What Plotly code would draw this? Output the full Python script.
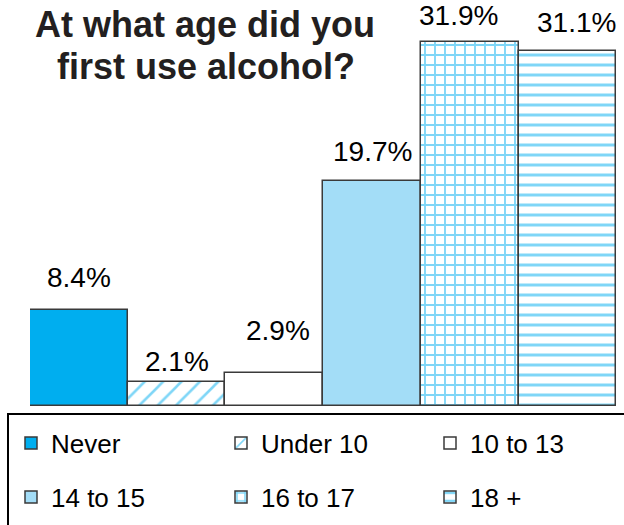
import plotly.graph_objects as go

# Survey result: age at first alcohol use (percent of respondents)
categories = ["Never", "Under 10", "10 to 13", "14 to 15", "16 to 17", "18 +"]
percents = [8.4, 2.1, 2.9, 19.7, 31.9, 31.1]

BLUE = "#00AEEF"
LIGHT_BLUE = "#A3DDF7"
EDGE = "#3a3a3a"
FONT = "Liberation Sans, Arial, Helvetica, sans-serif"

# fill style per category: (background colour, pattern shape, pattern size, solidity)
styles = [
    (BLUE, "", 10, 0.3),
    ("white", "/", 13, 0.2),
    ("white", "", 10, 0.3),
    (LIGHT_BLUE, "", 10, 0.3),
    ("white", "+", 10, 0.34),
    ("white", "-", 10, 0.3),
]

# value-label placement: (horizontal nudge, gap above bar top to label centre), px
label_offsets = [(0, 31), (0, 19), (4, 40), (0, 28), (-11, 24), (9, 26)]

# legend entry anchors in pixels (left x, centre y), two rows of three
legend_pos = [(11, 443), (221, 443), (430, 443),
              (11, 497), (221, 497), (430, 497)]

W, H = 624, 525
ML, MR, MT, MB = 30, 6, 0, 119
PW, PH = W - ML - MR, H - MT - MB
YMAX = 35.55


def px_x(x):
    return (x - ML) / PW


def px_y(y):
    return (H - MB - y) / PH


fig = go.Figure()
legend_layout = {}
for i, (cat, val) in enumerate(zip(categories, percents)):
    bg, shape, psize, solid = styles[i]
    lname = "legend" if i == 0 else f"legend{i + 1}"
    fig.add_trace(go.Bar(
        x=[cat], y=[val], name=cat,
        marker=dict(color=bg, line=dict(color=EDGE, width=1.5),
                    pattern=dict(shape=shape, fgcolor=BLUE, bgcolor=bg,
                                 size=psize, solidity=solid)),
        legend=lname,
        hoverinfo="skip",
    ))
    lx, ly = legend_pos[i]
    legend_layout[lname] = dict(
        xref="container", yref="container",
        x=lx / W, y=(H - ly) / H, xanchor="left", yanchor="middle",
        orientation="h",
        font=dict(family=FONT, size=26, color="black"),
        bgcolor="rgba(0,0,0,0)", borderwidth=0,
        itemclick=False, itemdoubleclick=False,
    )
    dx, gap = label_offsets[i]
    fig.add_annotation(
        x=cat, y=val, xref="x", yref="y", text=f"{val}%",
        showarrow=False, xanchor="center", yanchor="middle",
        xshift=dx, yshift=gap + 2,
        font=dict(family=FONT, size=28, color="black"),
    )

# two-line title
fig.add_annotation(x=px_x(205), y=px_y(24), xref="paper", yref="paper",
                   xanchor="center", yanchor="middle",
                   text="<b>At what age did you</b>", showarrow=False,
                   font=dict(family=FONT, size=36, color="#231F20"))
fig.add_annotation(x=px_x(206), y=px_y(67), xref="paper", yref="paper",
                   xanchor="center", yanchor="middle",
                   text="<b>first use alcohol?</b>", showarrow=False,
                   font=dict(family=FONT, size=36, color="#231F20"))

# frame around the legend area
fig.add_shape(type="rect", xref="paper", yref="paper",
              x0=px_x(8), x1=px_x(640), y0=px_y(414), y1=px_y(540),
              line=dict(color="black", width=2), fillcolor="rgba(0,0,0,0)")

fig.update_layout(
    width=W, height=H,
    margin=dict(l=ML, r=MR, t=MT, b=MB, autoexpand=False),
    paper_bgcolor="white", plot_bgcolor="white",
    barmode="overlay", bargap=0,
    showlegend=True,
    xaxis=dict(visible=False, categoryorder="array", categoryarray=categories),
    yaxis=dict(visible=False, range=[0, YMAX]),
    **legend_layout,
)

fig.write_html("out.html")
